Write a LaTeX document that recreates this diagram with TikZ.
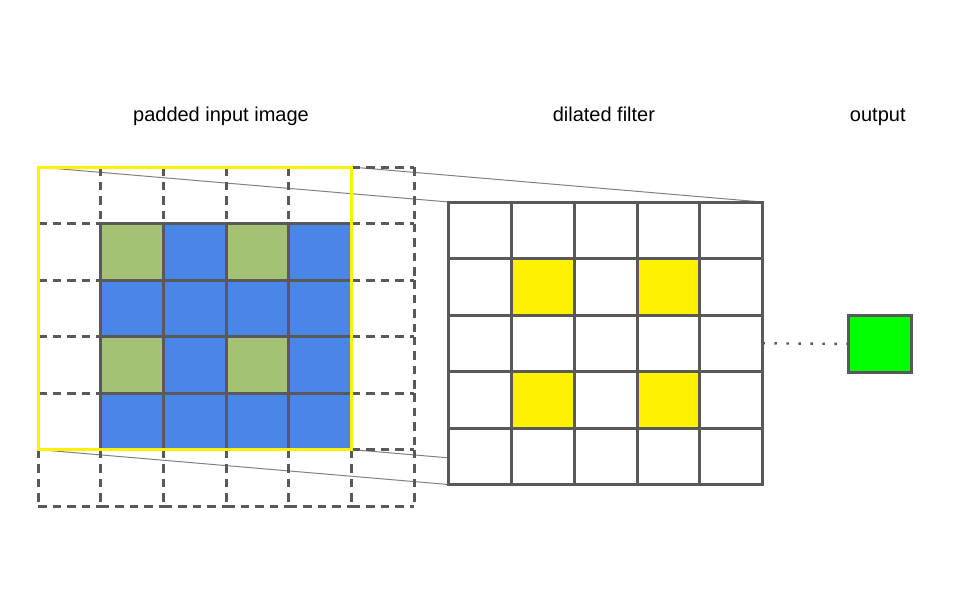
\documentclass[tikz,border=0pt]{standalone}
\usepackage{fontspec}
\setmainfont{Liberation Sans}
\usetikzlibrary{fit,backgrounds}
\definecolor{linegray}{HTML}{595959}
\definecolor{thingray}{HTML}{808080}
\definecolor{padgreen}{HTML}{A4C274}
\definecolor{padblue}{HTML}{4A86E8}
\definecolor{outgreen}{HTML}{00FF00}
\tikzset{
  dashline/.style={draw=linegray,line width=1.5pt,dash pattern=on 4.3pt off 3pt},
  pcell/.style={draw=linegray,line width=1.5pt},
  fcell/.style={draw=linegray,line width=1.5pt,fill=white,minimum width=31.33pt,minimum height=28.25pt,inner sep=0pt,outer sep=0pt},
  window/.style={draw=yellow,line width=1.5pt,inner sep=0pt,outer sep=0pt},
  zoomline/.style={draw=thingray,line width=0.5pt},
  dotline/.style={draw=linegray,line width=1.2pt,dash pattern=on 1.2pt off 4.8pt},
  outbox/.style={fcell,fill=outgreen},
  lbl/.style={anchor=base,inner sep=0pt,font=\fontsize{10pt}{12pt}\selectfont}
}
\begin{document}
\begin{tikzpicture}[x=31.33pt,y=-28.25pt]
 \useasboundingbox (-0.6064,-2.956) rectangle (14.712,7.664);
 % padded input, dashed
 \foreach \i in {0,...,5} \foreach \k in {0,...,6} \draw[dashline](\i,\k)--++(1,0);
 \foreach \i in {0,...,5} \foreach \k in {0,...,6} \draw[dashline](\k,\i)--++(0,1);
 % input image
 \foreach \i/\j in {1/1,3/1,1/3,3/3} \draw[pcell,fill=padgreen](\i,\j) rectangle ++(1,1);
 \foreach \i/\j in {2/1,4/1,1/2,2/2,3/2,4/2,2/3,4/3,1/4,2/4,3/4,4/4} \draw[pcell,fill=padblue](\i,\j) rectangle ++(1,1);
 \node[window,fit={(0,0) (5,5)}] (win) {};
 % dilated filter
 \foreach \i in {0,...,4} \foreach \j in {0,...,4} \node[fcell] (f\i\j) at (7.058+\i,1.119+\j) {};
 \foreach \c in {f11,f31,f13,f33} \node[fcell,fill=yellow] at (\c) {};
 \begin{scope}[on background layer]
 \draw[zoomline](win.north west)--(f00.north west);
 \draw[zoomline](win.north east)--(f40.north east);
 \draw[zoomline](win.south west)--(f04.south west);
 \draw[zoomline](win.south east)--(f44.south east);
 \end{scope}
 % output
 \node[outbox] (out) at (13.44,3.13) {};
 \draw[dotline](f42.east)--(out.west);
 \node[lbl] (lblin) at (2.92,-0.814) {padded input image};
 \node[lbl] (lblfilt) at (9.03,-0.814) {dilated filter};
 \node[lbl] (lblout) at (13.40,-0.814) {output};
\end{tikzpicture}
\end{document}
